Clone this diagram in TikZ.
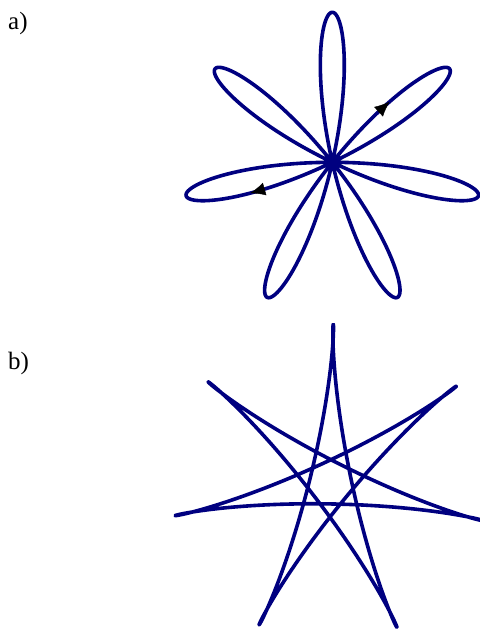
\documentclass[tikz,border=0pt]{standalone}
\usepackage{fontspec}
\setmainfont{Liberation Serif}
\usepackage{tikz}
\usetikzlibrary{arrows.meta}
\definecolor{tinte}{HTML}{000080}

\begin{document}
\begin{tikzpicture}[x=1pt, y=1pt,
    bahn/.style={tinte, line width=3.6pt, line join=round, line cap=round},
    richtung/.style={-{Latex[length=15pt, width=13pt]}, black, line width=0.4pt},
    marke/.style={font=\fontsize{25}{30}\selectfont, anchor=base west, inner sep=0pt}]
  \useasboundingbox (0,0) rectangle (479,631);
  % Beschriftungen
  \node[marke] (la) at (8,601) {a)};
  \node[marke] (lb) at (8,261) {b)};
  % a) Rosette mit sieben Blaettern
  \begin{scope}[shift={(332.3,468.7)}]
    \draw[bahn] plot[domain=0:180, samples=420] (\x:{150*cos(7*(\x-90))});
    % Umlaufsinn
    \coordinate (ra) at (47.6:{150*cos(7*(47.6-90))});
    \coordinate (rb) at (46.6:{150*cos(7*(46.6-90))});
    \coordinate (la1) at (201.6:{150*cos(7*(201.6-90))});
    \coordinate (la2) at (200.6:{150*cos(7*(200.6-90))});
    \draw[richtung] (ra) -- (rb);
    \draw[richtung] (la1) -- (la2);
  \end{scope}
  % b) Sternbahn
  \begin{scope}[shift={(330.5,148)}, rotate=89]
    \draw[bahn] plot[domain=0:1080, samples=1300]
      ({158.6*(0.566*cos(\x)+0.434*cos(4*\x/3))},
       {158.6*(0.566*sin(\x)-0.434*sin(4*\x/3))});
  \end{scope}
\end{tikzpicture}
\end{document}
